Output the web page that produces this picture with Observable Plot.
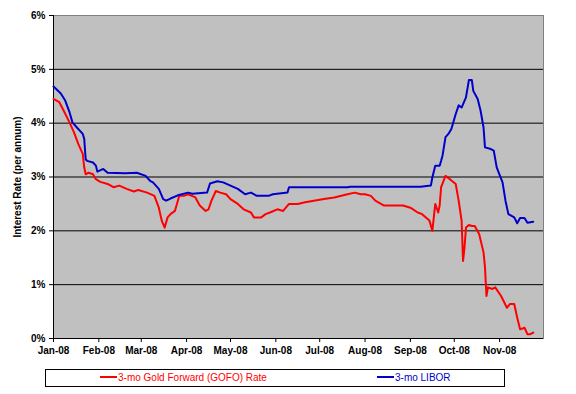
<!DOCTYPE html>
<html>
<head>
<meta charset="utf-8">
<script src="https://cdn.jsdelivr.net/npm/d3@7"></script>
<script src="https://cdn.jsdelivr.net/npm/@observablehq/plot@0.6"></script>
<style>
  html, body { margin: 0; padding: 0; background: #fff; }
  #wrap { position: relative; width: 576px; height: 394px; font-family: "Liberation Sans", Arial, sans-serif; }
  #legend { position: absolute; left: 45px; top: 369px; width: 458px; height: 16px; border: 1px solid #000; box-sizing: content-box; font-size: 10px; }
  .item { position: absolute; top: 0; height: 16px; line-height: 16px; white-space: nowrap; }
  .swatch { display: inline-block; width: 17px; height: 2px; vertical-align: middle; margin-right: 1px; position: relative; top: -1px; }
</style>
</head>
<body>
<div id="wrap">
  <div id="chart"></div>
  <div id="legend"></div>
</div>
<script>
// ---- Data ----
const seriesNames = ["3-mo Gold Forward (GOFO) Rate", "3-mo LIBOR"];
const seriesColors = ["#FF0000", "#0000CC"];

const gofoDates = ["2008-01-01","2008-01-05","2008-01-08","2008-01-12","2008-01-15","2008-01-18","2008-01-21","2008-01-22","2008-01-23","2008-01-25","2008-01-28","2008-01-30",
  "2008-02-02","2008-02-07","2008-02-11","2008-02-15","2008-02-20","2008-02-25","2008-02-28",
  "2008-03-05","2008-03-10","2008-03-13","2008-03-15","2008-03-17","2008-03-19","2008-03-21","2008-03-24","2008-03-27","2008-03-30",
  "2008-04-02","2008-04-07","2008-04-10","2008-04-14","2008-04-16","2008-04-18","2008-04-21","2008-04-24","2008-04-28",
  "2008-05-01","2008-05-06","2008-05-10","2008-05-15","2008-05-17","2008-05-22","2008-05-25","2008-05-28",
  "2008-06-02","2008-06-06","2008-06-10","2008-06-16","2008-06-21","2008-06-27",
  "2008-07-04","2008-07-11","2008-07-20","2008-07-25","2008-07-29",
  "2008-08-01","2008-08-05","2008-08-08","2008-08-14","2008-08-27",
  "2008-09-01","2008-09-06","2008-09-09","2008-09-14","2008-09-16","2008-09-17","2008-09-18","2008-09-20","2008-09-21","2008-09-22","2008-09-25","2008-09-28",
  "2008-10-02","2008-10-04","2008-10-06","2008-10-07","2008-10-08","2008-10-09","2008-10-11","2008-10-13","2008-10-15","2008-10-18","2008-10-21","2008-10-22","2008-10-23","2008-10-24","2008-10-27","2008-10-29",
  "2008-11-02","2008-11-06","2008-11-08","2008-11-11","2008-11-13","2008-11-15","2008-11-18","2008-11-20","2008-11-22","2008-11-24"];
const gofoRates = [4.45,4.39,4.23,4.01,3.83,3.61,3.43,3.18,3.05,3.08,3.05,2.96,
  2.91,2.87,2.81,2.84,2.78,2.73,2.76,
  2.71,2.65,2.43,2.19,2.06,2.25,2.31,2.37,2.65,2.65,
  2.68,2.62,2.47,2.37,2.40,2.56,2.74,2.71,2.68,
  2.59,2.50,2.40,2.34,2.25,2.25,2.31,2.34,
  2.40,2.37,2.50,2.50,2.53,2.56,
  2.59,2.62,2.68,2.71,2.68,
  2.68,2.65,2.56,2.47,2.47,
  2.43,2.34,2.31,2.19,2.00,2.25,2.50,2.34,2.47,2.81,3.02,2.96,
  2.87,2.56,2.19,1.44,1.69,2.06,2.11,2.09,2.09,1.94,1.60,1.32,0.79,0.95,0.92,0.95,
  0.79,0.57,0.64,0.64,0.39,0.17,0.20,0.08,0.08,0.11];

const liborDates = ["2008-01-01","2008-01-06","2008-01-09","2008-01-12","2008-01-14","2008-01-17","2008-01-21","2008-01-22","2008-01-23","2008-01-24","2008-01-28","2008-01-30","2008-01-31",
  "2008-02-04","2008-02-07","2008-02-19","2008-02-27",
  "2008-03-04","2008-03-07","2008-03-09","2008-03-13","2008-03-16","2008-03-18","2008-03-21","2008-03-26",
  "2008-04-02","2008-04-05","2008-04-15","2008-04-17","2008-04-22","2008-04-26",
  "2008-05-01","2008-05-06","2008-05-11","2008-05-15","2008-05-19","2008-05-27","2008-05-30",
  "2008-06-09","2008-06-10","2008-06-27",
  "2008-07-20","2008-07-22",
  "2008-09-08","2008-09-15","2008-09-16","2008-09-18","2008-09-21","2008-09-22","2008-09-23","2008-09-25","2008-09-27","2008-09-29",
  "2008-10-02","2008-10-04","2008-10-06","2008-10-09","2008-10-11","2008-10-13","2008-10-14","2008-10-17","2008-10-19","2008-10-21","2008-10-22","2008-10-26","2008-10-28","2008-10-30",
  "2008-11-03","2008-11-05","2008-11-07","2008-11-11","2008-11-13","2008-11-15","2008-11-18","2008-11-20","2008-11-24"];
const liborRates = [4.68,4.55,4.42,4.20,4.01,3.92,3.80,3.71,3.33,3.30,3.27,3.21,3.10,
  3.15,3.08,3.07,3.08,
  3.02,2.93,2.90,2.78,2.59,2.56,2.60,2.66,
  2.71,2.69,2.71,2.88,2.92,2.90,
  2.84,2.78,2.68,2.71,2.65,2.65,2.68,
  2.71,2.81,2.81,
  2.81,2.82,
  2.82,2.84,2.99,3.21,3.21,3.30,3.40,3.74,3.80,3.89,
  4.17,4.33,4.29,4.48,4.80,4.80,4.60,4.45,4.23,3.92,3.55,3.52,3.49,3.18,
  2.90,2.56,2.31,2.25,2.14,2.24,2.24,2.15,2.17];

const yTicks = [0, 1, 2, 3, 4, 5, 6];
const monthTicks = ["2008-01-01","2008-02-01","2008-03-01","2008-04-01","2008-05-01","2008-06-01","2008-07-01","2008-08-01","2008-09-01","2008-10-01","2008-11-01"];
const xDomain = ["2008-01-01", "2008-12-01"];

// ---- Build tables ----
const parse = d3.utcParse("%Y-%m-%d");
const gofo = gofoDates.map((d, i) => ({date: parse(d), rate: gofoRates[i], series: seriesNames[0]}));
const libor = liborDates.map((d, i) => ({date: parse(d), rate: liborRates[i], series: seriesNames[1]}));

const chart = Plot.plot({
  width: 576,
  height: 360,
  marginLeft: 53,
  marginRight: 33,
  marginTop: 15,
  marginBottom: 22,
  style: {fontFamily: "Liberation Sans, Arial, sans-serif", fontSize: "10px", fontWeight: "bold", background: "white", color: "black"},
  x: {type: "utc", domain: xDomain.map(parse)},
  y: {domain: [0, 6]},
  marks: [
    Plot.frame({fill: "#C0C0C0", stroke: "#808080"}),
    Plot.ruleY(yTicks.filter(v => v > 0 && v < 6), {stroke: "black", strokeWidth: 1}),
    Plot.ruleY([0], {stroke: "black", strokeWidth: 1}),
    Plot.ruleX([parse(xDomain[0])], {stroke: "black", strokeWidth: 1}),
    Plot.axisY({ticks: yTicks, tickFormat: d => d + "%", tickSize: 4, tickPadding: 4,
      label: "Interest Rate (per annum)", labelAnchor: "center", labelOffset: 40, labelArrow: "none"}),
    Plot.axisX({ticks: monthTicks.map(parse), tickFormat: d3.utcFormat("%b-%y"), tickSize: 4, tickPadding: 4, label: null}),
    Plot.line(gofo, {x: "date", y: "rate", stroke: seriesColors[0], strokeWidth: 2}),
    Plot.line(libor, {x: "date", y: "rate", stroke: seriesColors[1], strokeWidth: 2})
  ]
});
document.getElementById("chart").appendChild(chart);

// ---- Legend ----
const legend = document.getElementById("legend");
const legendLefts = [54, 331];
seriesNames.forEach((name, i) => {
  const item = document.createElement("div");
  item.className = "item";
  item.style.left = legendLefts[i] + "px";
  item.style.color = seriesColors[i];
  const sw = document.createElement("span");
  sw.className = "swatch";
  sw.style.background = seriesColors[i];
  item.appendChild(sw);
  item.appendChild(document.createTextNode(name));
  legend.appendChild(item);
});
</script>
</body>
</html>
